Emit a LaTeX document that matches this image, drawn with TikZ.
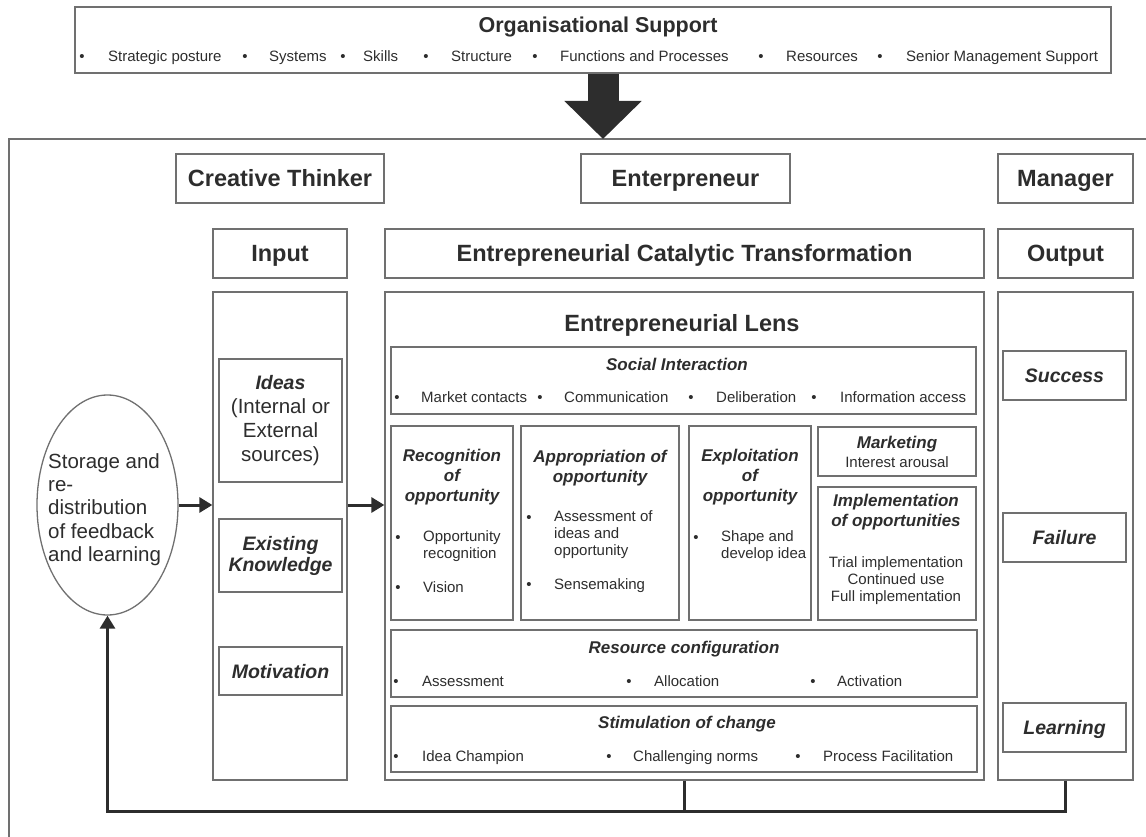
\documentclass[tikz,border=0pt]{standalone}
\usepackage{fontspec}
\setmainfont{Liberation Sans}
\usetikzlibrary{arrows.meta,shapes.geometric}

\definecolor{edgegray}{RGB}{112,112,112}
\definecolor{inkgray}{RGB}{45,45,45}

\newcommand\fnthead{\fontsize{23.5}{27}\selectfont\bfseries}
\newcommand\fntorg{\fontsize{21.5}{25}\selectfont\bfseries}
\newcommand\fntcol{\fontsize{19.5}{21}\selectfont\bfseries\itshape}
\newcommand\fntsub{\fontsize{17}{20}\selectfont\bfseries\itshape}
\newcommand\fntitem{\fontsize{15}{17}\selectfont}
\newcommand\fntplain{\fontsize{20.5}{24}\selectfont}
\newcommand\fntstore{\fontsize{20.5}{23.25}\selectfont}

\tikzset{
  panel/.style={draw=edgegray, line width=1.3pt, inner sep=0pt, align=center, text=inkgray},
  head/.style={panel, font=\fnthead, text height=16.8pt, text depth=0pt},
  colitem/.style={panel, font=\fntcol, text height=14pt, text depth=0pt},
  txt/.style={inner sep=0pt, text=inkgray, font=\fntitem, align=left},
  dot/.style={inner sep=0pt, text=inkgray, font=\fntitem, anchor=base},
  sub/.style={inner sep=0pt, text=inkgray, font=\fntsub, align=center},
  wire/.style={draw=inkgray, line width=3pt},
  flow/.style={wire, -{Triangle[length=13pt,width=15pt]}},
}

\begin{document}
\begin{tikzpicture}[x=1pt,y=-1pt]
  \useasboundingbox (0,0) rectangle (1146,837);

  \node[panel, minimum width=1036pt, minimum height=66pt] (orgsup) at (593,40) {};
  \node[txt, font=\fntorg, anchor=base] (orgtitle) at (598,33) {Organisational Support};
  \foreach \b/\t/\s [count=\i] in {82/108/Strategic posture, 245/269/Systems, 343/363/Skills, 426/451/Structure, 535/560/Functions and Processes, 761/786/Resources, 880/906/Senior Management Support} {
    \node[dot] (orgdot\i) at (\b,61.5) {•};
    \node[txt, anchor=base west] (orgitem\i) at (\t,61.5) {\s};
  }

  \draw[edgegray, line width=1.3pt] (1146,139) -- (9,139) -- (9,837);
  \coordinate (drop) at (603,139);
  \draw[inkgray, line width=31pt, -{Triangle[length=38pt,width=75pt]}] (orgsup.south -| drop) -- (drop);

  \node[head, minimum width=208pt, minimum height=49pt] (creative) at (280,178.5) {Creative Thinker};
  \node[head, minimum width=209pt, minimum height=49pt] (enterp) at (685.5,178.5) {Enterpreneur};
  \node[head, minimum width=135pt, minimum height=49pt] (manager) at (1065.5,178.5) {Manager};

  \node[head, minimum width=134pt, minimum height=49pt] (input) at (280,253.5) {Input};
  \node[head, minimum width=599pt, minimum height=49pt] (ect) at (684.5,253.5) {Entrepreneurial Catalytic Transformation};
  \node[head, minimum width=135pt, minimum height=49pt] (output) at (1065.5,253.5) {Output};

  \node[panel, minimum width=134pt, minimum height=488pt] (incol) at (280,536) {};
  \node[panel, minimum width=599pt, minimum height=488pt] (lens) at (684.5,536) {};
  \node[panel, minimum width=135pt, minimum height=488pt] (outcol) at (1065.5,536) {};

  \node[panel, minimum width=123pt, minimum height=123pt, font=\fntplain] (ideas) at (280.5,420.5) {{\fntcol Ideas}\\(Internal or\\External\\sources)};
  \node[panel, minimum width=123pt, minimum height=73pt, font=\fntcol] (knowledge) at (280.5,555.5) {Existing\\Knowledge};
  \node[colitem, minimum width=123pt, minimum height=48pt] (motivation) at (280.5,671) {Motivation};

  \node[draw=edgegray, line width=1.3pt, ellipse, minimum width=141pt, minimum height=220pt, inner sep=0pt] (store) at (107.5,505) {};
  \node[txt, font=\fntstore, anchor=west] (storetxt) at (48,509.5) {Storage and\\re-\\distribution\\of feedback\\and learning};

  \node[txt, font=\fnthead, anchor=base] (lenstitle) at (682,331.4) {Entrepreneurial Lens};

  \node[panel, minimum width=585pt, minimum height=67pt] (social) at (683.5,380.5) {};
  \node[sub, anchor=base] (socialtitle) at (677,370) {Social Interaction};
  \foreach \b/\t/\s [count=\i] in {397/421/Market contacts, 540/564/Communication, 691/716/Deliberation, 814/840/Information access} {
    \node[dot] (socialdot\i) at (\b,402.5) {•};
    \node[txt, anchor=base west] (socialitem\i) at (\t,402.5) {\s};
  }

  \node[panel, minimum width=122pt, minimum height=194pt] (recog) at (452,523) {};
  \node[sub] (recogtitle) at (452,477) {Recognition\\of\\opportunity};
  \node[dot] (recogdot1) at (398,542.5) {•};
  \node[txt, anchor=west] (recogitem1) at (423,546) {Opportunity\\recognition};
  \node[dot] (recogdot2) at (398,592.5) {•};
  \node[txt, anchor=base west] (recogitem2) at (423,592.5) {Vision};

  \node[panel, minimum width=158pt, minimum height=194pt] (approp) at (600,523) {};
  \node[sub] (approptitle) at (600,468) {Appropriation of\\opportunity};
  \node[dot] (appropdot1) at (529,522.5) {•};
  \node[txt, anchor=west] (appropitem1) at (554,535) {Assessment of\\ideas and\\opportunity};
  \node[dot] (appropdot2) at (529,589.5) {•};
  \node[txt, anchor=base west] (appropitem2) at (554,589.5) {Sensemaking};

  \node[panel, minimum width=122pt, minimum height=194pt] (exploit) at (750,523) {};
  \node[sub] (exploittitle) at (750,477) {Exploitation\\of\\opportunity};
  \node[dot] (exploitdot1) at (696,542.5) {•};
  \node[txt, anchor=west] (exploititem1) at (721,546) {Shape and\\develop idea};

  \node[panel, minimum width=158pt, minimum height=49pt, font=\fntitem] (market) at (897,451.5) {{\fntsub Marketing}\\[2pt]Interest arousal};
  \node[panel, minimum width=158pt, minimum height=133pt] (impl) at (897,553.5) {};
  \node[sub] (impltitle) at (896,512.5) {Implementation\\of opportunities};
  \node[txt, align=center] (implitems) at (896,580.5) {Trial implementation\\Continued use\\Full implementation};

  \node[panel, minimum width=586pt, minimum height=67pt] (resource) at (684,663.5) {};
  \node[sub, anchor=base] (resourcetitle) at (684,653) {Resource configuration};
  \foreach \b/\t/\s [count=\i] in {396/422/Assessment, 629/654/Allocation, 813/837/Activation} {
    \node[dot] (resourcedot\i) at (\b,686.5) {•};
    \node[txt, anchor=base west] (resourceitem\i) at (\t,686.5) {\s};
  }

  \node[panel, minimum width=586pt, minimum height=66pt] (stim) at (684,739) {};
  \node[sub, anchor=base] (stimtitle) at (687,728) {Stimulation of change};
  \foreach \b/\t/\s [count=\i] in {396/422/Idea Champion, 609/633/Challenging norms, 798/823/Process Facilitation} {
    \node[dot] (stimdot\i) at (\b,761.5) {•};
    \node[txt, anchor=base west] (stimitem\i) at (\t,761.5) {\s};
  }

  \node[colitem, minimum width=123pt, minimum height=49pt] (success) at (1064.5,375.5) {Success};
  \node[colitem, minimum width=123pt, minimum height=49pt] (failure) at (1064.5,537.5) {Failure};
  \node[colitem, minimum width=123pt, minimum height=49pt] (learning) at (1064.5,727.5) {Learning};

  \draw[flow] (store.east) -- (store.east -| incol.west);
  \draw[flow] (store.east -| incol.east) -- (store.east -| lens.west);
  \coordinate (fbjoin) at (684.5,811);
  \draw[flow] (outcol.south) |- (fbjoin) -| (store.south);
  \draw[wire] (lens.south) -- (fbjoin);
\end{tikzpicture}
\end{document}
